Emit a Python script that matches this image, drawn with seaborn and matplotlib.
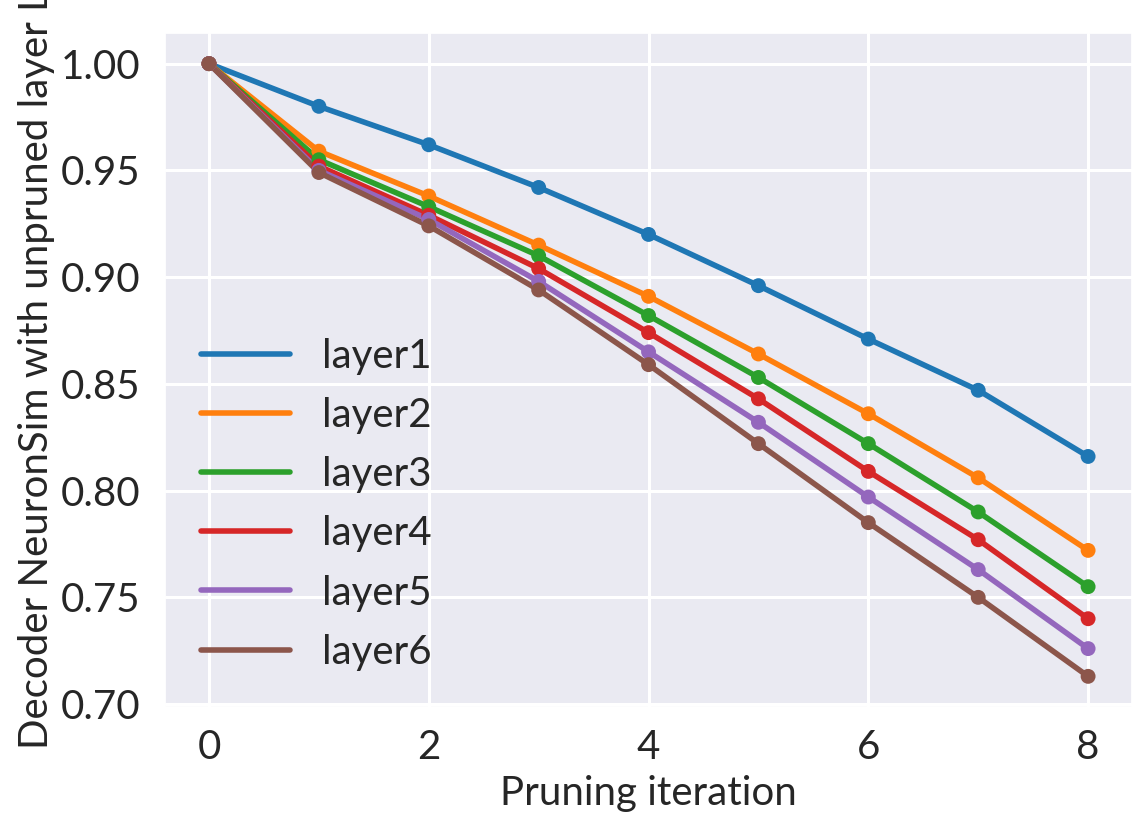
import numpy as np
import pandas as pd
import matplotlib
matplotlib.use('Agg')
import matplotlib.pyplot as plt
import seaborn as sns

iterations = [0, 1, 2, 3, 4, 5, 6, 7, 8]
layer_names = ['layer1', 'layer2', 'layer3', 'layer4', 'layer5', 'layer6']
layer1 = [1.0, 0.980, 0.962, 0.942, 0.920, 0.896, 0.871, 0.847, 0.816]
layer2 = [1.0, 0.959, 0.938, 0.915, 0.891, 0.864, 0.836, 0.806, 0.772]
layer3 = [1.0, 0.955, 0.933, 0.910, 0.882, 0.853, 0.822, 0.790, 0.755]
layer4 = [1.0, 0.952, 0.929, 0.904, 0.874, 0.843, 0.809, 0.777, 0.740]
layer5 = [1.0, 0.950, 0.927, 0.898, 0.865, 0.832, 0.797, 0.763, 0.726]
layer6 = [1.0, 0.949, 0.924, 0.894, 0.859, 0.822, 0.785, 0.750, 0.713]


def build_frame():
    rows = []
    for name, vals in zip(layer_names, [layer1, layer2, layer3, layer4, layer5, layer6]):
        for it, v in zip(iterations, vals):
            rows.append({'iteration': it, 'sim': v, 'layer': name})
    return pd.DataFrame(rows)


df = build_frame()

sns.set_theme(style='darkgrid')
plt.rcParams['font.family'] = ['Lato', 'DejaVu Sans']
plt.rcParams['grid.linewidth'] = 2.2

fig = plt.figure(figsize=(11.39, 8.13), dpi=100)
ax = fig.add_axes([0.1449, 0.1304, 0.849, 0.829])

sns.lineplot(data=df, x='iteration', y='sim', hue='layer', hue_order=layer_names,
             palette='tab10', linewidth=4.0, ax=ax)
sns.scatterplot(data=df, x='iteration', y='sim', hue='layer', hue_order=layer_names,
                palette='tab10', s=115, linewidth=0, legend=False, ax=ax, zorder=3)

ax.set_xlabel('Pruning iteration', fontsize=29, labelpad=6)
ax.set_ylabel('Decoder NeuronSim with unpruned layer L', fontsize=29)
ax.tick_params(axis='both', labelsize=29)
ax.tick_params(axis='y', pad=12)
ax.tick_params(axis='x', pad=10)
ax.legend(loc='lower left', frameon=False, fontsize=29, handlelength=2.2,
          handletextpad=0.8, labelspacing=0.55)

fig.savefig('out.png', dpi=100)
